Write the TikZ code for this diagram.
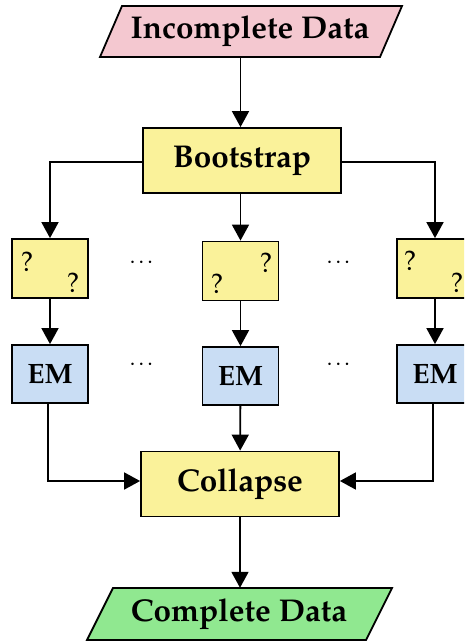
\documentclass[tikz,border=0pt]{standalone}
\usepackage[T1]{fontenc}
\usepackage{mathpazo}
\usetikzlibrary{arrows.meta,calc}

\definecolor{dataPink}{HTML}{F4C8D0}
\definecolor{dataGreen}{HTML}{90E890}
\definecolor{stepYellow}{HTML}{FAF29A}
\definecolor{emBlue}{HTML}{C9DDF4}

\tikzset{
  wire/.style={line width=1.8pt, -{Triangle[length=16pt,width=17pt]}},
  frame/.style={draw, line width=1.8pt},
  bigbox/.style={frame, fill=stepYellow, minimum width=198pt, minimum height=65pt,
                 inner sep=0pt, font=\fontsize{31.5}{36}\selectfont\bfseries},
  qbox/.style={frame, fill=stepYellow, minimum width=76pt, minimum height=59pt, inner sep=0pt},
  embox/.style={frame, fill=emBlue, minimum width=76pt, minimum height=58pt,
                inner sep=0pt, font=\fontsize{28}{32}\selectfont\bfseries},
  qmark/.style={font=\fontsize{28}{32}\selectfont, inner sep=0pt},
  gap/.style={font=\fontsize{22}{26}\selectfont, inner sep=0pt},
  datatext/.style={inner sep=0pt, minimum height=51pt, minimum width=200pt,
                   font=\fontsize{31.5}{36}\selectfont\bfseries}
}

\begin{document}
\begin{tikzpicture}[x=1pt,y=-1pt]
\useasboundingbox (0,0) rectangle (464,642);
\clip (0,0) rectangle (464,642);

% input and output parallelograms
\draw[frame, fill=dataPink] (122,6) -- (402,6) -- (380,57) -- (100,57) -- cycle;
\node[datatext] (inc) at (250,31.5) {Incomplete Data};
\draw[frame, fill=dataGreen] (113,588) -- (392,588) -- (366,640) -- (87,640) -- cycle;
\node[datatext, minimum height=52pt] (comp) at (239,614) {Complete Data};

% main steps
\node[bigbox] (boot) at (242,160.5) {Bootstrap};
\node[bigbox] (coll) at (240,484) {Collapse};

% resampled data sets
\node[qbox] (q1) at (50,268.5) {};
\node[qbox] (q2) at (240.5,271) {};
\node[qbox] (q3) at (435,268.5) {};
\node[qmark] (q1a) at (27,262) {?};
\node[qmark] (q1b) at (73,283) {?};
\node[qmark] (q2a) at (217,284) {?};
\node[qmark] (q2b) at (266,263) {?};
\node[qmark] (q3a) at (410,261) {?};
\node[qmark] (q3b) at (457,283) {?};

% EM runs
\node[embox] (em1) at (50,374) {EM};
\node[embox] (em2) at (240.5,376) {EM};
\node[embox] (em3) at (435,374) {EM};

% ellipses between the columns
\node[gap] (d1) at (143,262) {\dots};
\node[gap] (d2) at (340,262) {\dots};
\node[gap] (d3) at (143,364) {\dots};
\node[gap] (d4) at (340,364) {\dots};

% connectors
\draw[wire] (inc.south -| boot.north) ++(-1.5,0) coordinate (incout) -- (incout |- boot.north);
\draw[wire] (boot.west |- 0,162) -| (q1.north);
\draw[wire] (boot.south -| q2.north) -- (q2.north);
\draw[wire] (boot.east |- 0,162) -| (q3.north);

\draw[wire] (q1) -- (em1);
\draw[wire] (q2) -- (em2);
\draw[wire] (q3) -- (em3);

\draw[wire] (em1.south) ++(-2,0) coordinate (e1) -- (e1 |- 0,481) -- (coll.west |- 0,481);
\draw[wire] (em2) -- (coll);
\draw[wire] (em3.south) ++(-2,0) coordinate (e3) -- (e3 |- 0,481) -- (coll.east |- 0,481);

\draw[wire] (coll.south) -- (coll.south |- comp.north);
\end{tikzpicture}
\end{document}
